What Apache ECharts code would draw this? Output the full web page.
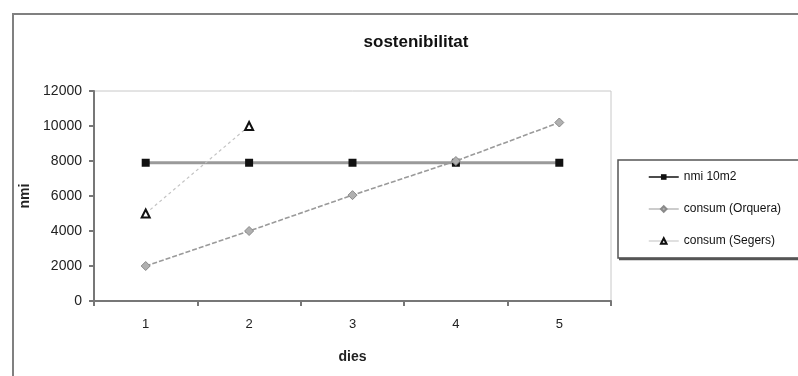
<!DOCTYPE html>
<html>
<head>
<meta charset="utf-8">
<script src="https://cdn.jsdelivr.net/npm/echarts@6/dist/echarts.min.js"></script>
<style>
  html, body { margin: 0; padding: 0; background: #fff; }
  #chart { width: 798px; height: 376px; }
</style>
</head>
<body>
<div id="chart"></div>
<script>
// Days on the x axis
const dies = ['1', '2', '3', '4', '5'];
// Series values (nmi)
const nmi10m2 = [7900, 7900, 7900, 7900, 7900];
const consumOrquera = [2000, 4000, 6050, 8000, 10200];
const consumSegers = [5000, 10000, null, null, null];
// Y axis range and step
const yMin = 0, yMax = 12000, yStep = 2000;

const FONT = '"Liberation Sans", Arial, sans-serif';
const chart = echarts.init(document.getElementById('chart'));

chart.setOption({
  animation: false,
  backgroundColor: '#fff',
  textStyle: { fontFamily: FONT },
  title: {
    text: 'sostenibilitat',
    left: 411, top: 29, textAlign: 'center',
    textStyle: { fontFamily: FONT, fontSize: 17, fontWeight: 'bold', color: '#111' }
  },
  graphic: [
    // chart frame
    { type: 'rect', shape: { x: 13, y: 14, width: 820, height: 420 },
      style: { fill: 'none', stroke: '#808080', lineWidth: 2 }, silent: true, z: 0 },
    // legend box with heavier bottom edge
    { type: 'rect', shape: { x: 618, y: 160, width: 200, height: 98 },
      style: { fill: '#fff', stroke: '#555', lineWidth: 1.5 }, silent: true, z: 0 },
    { type: 'line', shape: { x1: 619, y1: 259, x2: 798, y2: 259 },
      style: { stroke: '#555', lineWidth: 2.5 }, silent: true, z: 0 }
  ],
  legend: {
    orient: 'vertical', left: 648, top: 171, itemGap: 20, padding: 0,
    itemWidth: 30, itemHeight: 7,
    textStyle: { fontFamily: FONT, fontSize: 12, color: '#111' },
    data: [
      { name: 'nmi 10m2', lineStyle: { color: '#111', width: 1.5 } },
      { name: 'consum (Orquera)', lineStyle: { color: '#bbb', width: 1.5, type: 'solid' } },
      { name: 'consum (Segers)', lineStyle: { color: '#ccc', width: 1.2, type: 'solid' } }
    ]
  },
  grid: {
    left: 94, top: 91, right: 187, bottom: 75,
    show: true, borderColor: '#c8c8c8', borderWidth: 1
  },
  xAxis: {
    type: 'category', data: dies, boundaryGap: true,
    name: 'dies', nameLocation: 'middle', nameGap: 49,
    nameTextStyle: { fontFamily: FONT, fontSize: 14, fontWeight: 'bold', color: '#222' },
    axisLine: { lineStyle: { color: '#777', width: 2 } },
    axisTick: { show: true, length: 5, lineStyle: { color: '#777', width: 2 } },
    axisLabel: { margin: 17, fontFamily: FONT, fontSize: 13, color: '#222' },
    splitLine: { show: false }
  },
  yAxis: {
    type: 'value', min: yMin, max: yMax, interval: yStep,
    name: 'nmi', nameLocation: 'middle', nameGap: 57,
    nameTextStyle: { fontFamily: FONT, fontSize: 14, fontWeight: 'bold', color: '#222' },
    axisLine: { show: true, lineStyle: { color: '#777', width: 2 } },
    axisTick: { show: true, length: 5, lineStyle: { color: '#777', width: 2 } },
    axisLabel: {
      margin: 12, fontFamily: FONT, fontSize: 14, color: '#222',
      formatter: v => String(v)
    },
    splitLine: { show: false }
  },
  series: [
    {
      name: 'nmi 10m2', type: 'line', data: nmi10m2,
      symbol: 'rect', symbolSize: 8,
      itemStyle: { color: '#111' },
      lineStyle: { color: '#9a9a9a', width: 3 },
      z: 2
    },
    {
      name: 'consum (Orquera)', type: 'line', data: consumOrquera,
      symbol: 'diamond', symbolSize: 9,
      itemStyle: { color: '#b0b0b0', borderColor: '#8a8a8a', borderWidth: 1 },
      lineStyle: { color: '#9a9a9a', width: 1.6, type: [5, 2] },
      z: 3
    },
    {
      name: 'consum (Segers)', type: 'line', data: consumSegers,
      symbol: 'triangle', symbolSize: 8,
      itemStyle: { color: '#fff', borderColor: '#111', borderWidth: 2 },
      lineStyle: { color: '#c4c4c4', width: 1.2, type: [3, 3] },
      z: 4
    }
  ]
});
</script>
</body>
</html>
